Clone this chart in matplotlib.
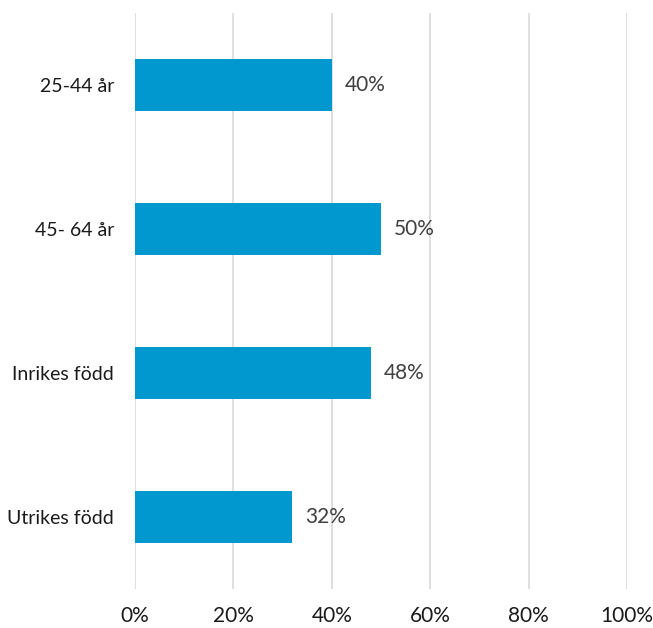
import matplotlib
matplotlib.use('Agg')
import matplotlib.pyplot as plt

categories = ['25-44 år', '45- 64 år', 'Inrikes född', 'Utrikes född']
values = [0.40, 0.50, 0.48, 0.32]
xticks = [0, 0.2, 0.4, 0.6, 0.8, 1.0]
xtick_labels = ['0%', '20%', '40%', '60%', '80%', '100%']

plt.rcParams['font.family'] = ['Lato', 'DejaVu Sans']

fig = plt.figure(figsize=(6.53, 6.28), dpi=100)
ax = fig.add_axes([135 / 653, 1 - 589 / 628, 492 / 653, 576 / 628])

y = list(range(len(categories)))
ax.barh(y, values, height=0.36, color='#0098CE', zorder=3)
for yi, v in zip(y, values):
    ax.text(v + 0.026, yi, f'{v:.0%}', va='center', ha='left',
            fontsize=15, color='#404040')

ax.set_xlim(0, 1)
ax.set_ylim(len(categories) - 0.5, -0.5)
ax.set_yticks(y)
ax.set_yticklabels(categories, fontsize=14, color='#1a1a1a')
ax.set_xticks(xticks)
ax.set_xticklabels(xtick_labels, fontsize=15, color='#1a1a1a')
ax.tick_params(length=0)
ax.tick_params(axis='x', pad=12)
ax.tick_params(axis='y', pad=15)
ax.grid(axis='x', color='#d9d9d9', linewidth=1.2, zorder=0)
for s in ax.spines.values():
    s.set_visible(False)

fig.savefig('out.png', dpi=100)
